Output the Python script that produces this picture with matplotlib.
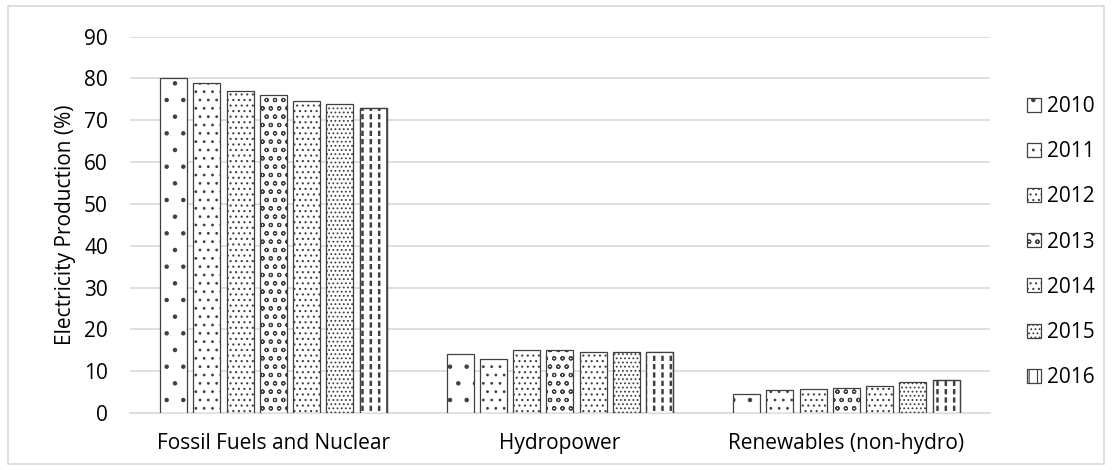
import numpy as np
import matplotlib
matplotlib.use('Agg')
import matplotlib.pyplot as plt
from matplotlib.patches import Rectangle

# data
categories = ['Fossil Fuels and Nuclear', 'Hydropower', 'Renewables (non-hydro)']
years = ['2010', '2011', '2012', '2013', '2014', '2015', '2016']
fossil = [80, 79, 77, 76, 74.5, 74, 73]
hydro = [14.2, 13, 15, 15, 14.6, 14.6, 14.6]
renew = [4.5, 5.5, 5.8, 6, 6.5, 7.5, 8]

hatches = ['.', '..', '...', 'oo', '...', '....', '||']

plt.rcParams['font.family'] = ['Open Sans', 'DejaVu Sans']
plt.rcParams['hatch.linewidth'] = 0.8

fig = plt.figure(figsize=(11.12, 4.70), dpi=100)
ax = fig.add_axes([0.117, 0.121, 0.773, 0.801])

values = np.array([fossil, hydro, renew])
x = np.arange(len(categories))
pitch = 0.116
width = 0.094
for i, yr in enumerate(years):
    off = (i - 3) * pitch
    lw = 1.8 if i == 6 else 0.8
    with plt.rc_context({'hatch.linewidth': lw}):
        ax.bar(x + off, values[:, i], width, color='white', edgecolor='#404040',
               linewidth=0.9, hatch=hatches[i], label=yr, zorder=3)

# break the 2016 stripes into dashes, then redraw its outline
off = 3 * pitch
with plt.rc_context({'hatch.linewidth': 2.2}):
    ax.bar(x + off, values[:, 6], width * 0.93, color='none', edgecolor='white',
           linewidth=0, hatch='--', zorder=3.5)
ax.bar(x + off, values[:, 6], width, fill=False, edgecolor='#404040',
       linewidth=0.9, zorder=4)

ax.set_xlim(-0.5, 2.5)
ax.set_ylim(0, 90)
ax.set_yticks(range(0, 91, 10))
ax.set_xticks(x)
ax.set_xticklabels(categories)
ax.yaxis.grid(True, color='#d9d9d9', linewidth=1.2, zorder=0)
ax.set_axisbelow(True)
for s in ['top', 'right', 'left']:
    ax.spines[s].set_visible(False)
ax.spines['bottom'].set_color('#d9d9d9')
ax.spines['bottom'].set_linewidth(1.2)
ax.tick_params(length=0, labelsize=15)
ax.tick_params(axis='y', pad=16)
ax.tick_params(axis='x', pad=14)
ax.set_ylabel('Electricity Production (%)', fontsize=15, labelpad=6)

fig.legend(loc='center left', bbox_to_anchor=(0.907, 0.485), frameon=False,
           fontsize=15, handlelength=0.65, handleheight=0.65, handletextpad=0.3,
           labelspacing=1.16)

fig.patches.append(Rectangle((0.007, 0.013), 0.986, 0.975, transform=fig.transFigure,
                             fill=False, edgecolor='#d9d9d9', linewidth=1.2))

fig.savefig('out.png', dpi=100)
